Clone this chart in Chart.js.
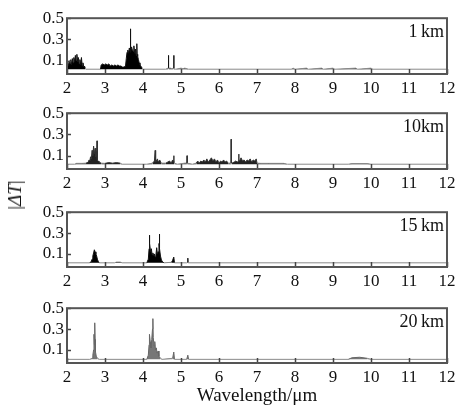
<!DOCTYPE html>
<html>
<head>
<meta charset="utf-8">
<script src="https://cdn.jsdelivr.net/npm/chart.js@4.4.1/dist/chart.umd.min.js"></script>
<style>
  html, body { margin:0; padding:0; background:#fff; }
  #wrap { position:relative; width:461px; height:405px; background:#fff; overflow:hidden; }
  canvas { position:absolute; left:0; }
  #ylab { position:absolute; left:15px; top:195px; transform:translate(-50%,-50%) rotate(-90deg);
          font:19px "Liberation Serif", serif; color:#111; white-space:nowrap; }
</style>
</head>
<body>
<div id="wrap">
  <canvas id="c1" width="461" height="95" style="top:5px"></canvas>
  <canvas id="c2" width="461" height="95" style="top:100px"></canvas>
  <canvas id="c3" width="461" height="94" style="top:199px"></canvas>
  <canvas id="c4" width="461" height="114" style="top:295px"></canvas>
  <div id="ylab">|<i>ΔT</i>|</div>
</div>
<script>
// ---------- data ----------
const panelLabels = ["1\u2009km", "10km", "15\u2009km", "20\u2009km"];
const xTickValues = [2, 3, 4, 5, 6, 7, 8, 9, 10, 11, 12];
const yTickValues = [0.1, 0.3, 0.5];
const xTitle = "Wavelength/\u03bcm";
const floorLevels = [0.02, 0.02, 0.015, 0.01];

// 1 km
const wl1 = [2.00,2.01,2.02,2.04,2.06,2.08,2.10,2.12,2.14,2.16,2.18,2.20,2.22,2.24,2.26,2.28,2.30,2.32,2.34,2.36,2.38,2.40,2.42,2.44,2.46,2.48,2.50,
  2.88,2.90,2.94,2.98,3.02,3.06,3.10,3.14,3.18,3.22,3.26,3.30,3.34,3.38,3.42,3.46,3.50,3.54,
  3.56,3.58,3.60,3.62,3.64,3.66,3.665,3.67,3.675,3.68,3.70,3.72,3.74,3.76,3.78,3.80,3.82,3.835,3.84,3.845,3.86,3.88,3.90,3.92,3.94,3.96,3.98,4.00,
  4.60,4.62,4.66,4.665,4.67,4.675,4.68,4.72,4.76,4.80,4.805,4.81,4.815,4.82,4.86,
  5.00,5.05,5.10,5.20,7.90,7.95,8.00,8.30,8.35,8.70,8.75,9.00,9.05,9.60,9.65,10.00,10.05,12.00];
const dT1 = [0.02,0.06,0.09,0.05,0.10,0.07,0.11,0.06,0.12,0.08,0.13,0.09,0.15,0.10,0.16,0.09,0.13,0.07,0.11,0.06,0.13,0.05,0.08,0.04,0.05,0.03,0.02,
  0.02,0.06,0.07,0.06,0.07,0.06,0.07,0.05,0.06,0.05,0.06,0.05,0.06,0.05,0.05,0.04,0.04,0.05,
  0.12,0.18,0.20,0.17,0.22,0.19,0.20,0.40,0.20,0.18,0.23,0.20,0.19,0.24,0.17,0.21,0.15,0.16,0.26,0.16,0.14,0.11,0.08,0.06,0.05,0.04,0.03,0.02,
  0.02,0.025,0.03,0.03,0.15,0.03,0.03,0.03,0.025,0.03,0.03,0.15,0.03,0.025,0.02,
  0.03,0.025,0.03,0.02,0.02,0.03,0.02,0.03,0.02,0.03,0.02,0.03,0.02,0.03,0.02,0.03,0.02,0.02];

// 10 km
const wl2 = [2.00,2.20,2.25,2.40,2.50,2.56,2.58,2.60,2.62,2.64,2.66,2.68,2.70,2.72,2.74,2.76,2.78,2.785,2.79,2.795,2.80,2.82,2.84,2.90,3.00,3.10,3.20,3.30,3.40,3.45,
  4.10,4.25,4.30,4.315,4.32,4.325,4.34,4.38,4.40,4.44,4.48,4.60,4.70,4.74,4.78,4.805,4.81,4.815,4.83,4.90,5.10,5.155,5.16,5.165,5.18,5.30,
  5.40,5.44,5.48,5.52,5.56,5.60,5.64,5.68,5.72,5.76,5.80,5.84,5.88,5.92,5.96,6.00,6.04,6.08,6.12,6.16,6.20,6.24,6.30,6.315,6.32,6.325,6.34,
  6.40,6.44,6.48,6.515,6.52,6.525,6.54,6.58,6.62,6.66,6.70,6.74,6.78,6.82,6.86,6.90,6.94,6.98,7.00,7.10,7.30,7.50,7.70,7.80,
  9.40,9.50,9.70,9.90,10.00,12.00];
const dT2 = [0.02,0.02,0.028,0.028,0.03,0.04,0.06,0.05,0.09,0.07,0.15,0.10,0.19,0.12,0.17,0.09,0.14,0.10,0.24,0.08,0.06,0.05,0.04,0.03,0.028,0.035,0.03,0.035,0.03,0.02,
  0.02,0.03,0.05,0.05,0.15,0.05,0.04,0.07,0.04,0.06,0.03,0.03,0.05,0.03,0.06,0.05,0.10,0.04,0.03,0.02,0.03,0.03,0.10,0.03,0.03,0.02,
  0.03,0.05,0.03,0.05,0.04,0.06,0.04,0.07,0.04,0.06,0.08,0.05,0.07,0.04,0.06,0.03,0.05,0.04,0.06,0.04,0.05,0.03,0.03,0.03,0.255,0.03,0.03,
  0.04,0.05,0.04,0.05,0.115,0.05,0.05,0.08,0.05,0.06,0.04,0.06,0.05,0.07,0.04,0.06,0.05,0.07,0.03,0.028,0.028,0.028,0.028,0.02,
  0.02,0.026,0.026,0.026,0.02,0.02];

// 15 km
const wl3 = [2.00,2.60,2.64,2.66,2.68,2.70,2.72,2.74,2.76,2.78,2.80,2.82,2.85,3.25,3.30,3.40,3.45,
  4.10,4.14,4.16,4.165,4.17,4.175,4.18,4.20,4.22,4.24,4.26,4.28,4.30,4.32,4.34,4.36,4.38,4.40,4.42,4.425,4.43,4.435,4.44,4.46,4.48,4.50,4.55,
  4.75,4.78,4.81,4.83,5.15,5.175,5.18,5.185,5.20,12.00];
const dT3 = [0.015,0.015,0.03,0.05,0.08,0.11,0.14,0.12,0.10,0.08,0.05,0.03,0.015,0.015,0.022,0.022,0.015,
  0.015,0.05,0.15,0.18,0.28,0.18,0.20,0.12,0.15,0.09,0.11,0.08,0.10,0.07,0.09,0.16,0.10,0.12,0.20,0.20,0.29,0.18,0.15,0.08,0.05,0.03,0.015,
  0.02,0.04,0.07,0.015,0.015,0.02,0.06,0.02,0.015,0.015];

// 20 km
const wl4 = [2.00,2.60,2.66,2.68,2.70,2.71,2.72,2.73,2.74,2.75,2.77,2.80,2.85,
  4.10,4.14,4.16,4.17,4.19,4.21,4.23,4.25,4.26,4.27,4.29,4.31,4.33,4.35,4.37,4.40,4.42,4.46,4.50,
  4.78,4.81,4.83,5.15,5.18,5.20,9.40,9.50,9.70,9.90,10.00,12.00];
const dT4 = [0.01,0.01,0.02,0.05,0.10,0.25,0.15,0.36,0.20,0.08,0.04,0.02,0.01,
  0.01,0.05,0.15,0.25,0.18,0.12,0.20,0.30,0.40,0.22,0.14,0.18,0.10,0.12,0.07,0.09,0.04,0.02,0.01,
  0.02,0.08,0.01,0.01,0.05,0.01,0.01,0.025,0.03,0.02,0.01,0.01];

const panels = [
  {id:"c1", wl:wl1, dT:dT1, fill:"#000", line:"#111", xh:26},
  {id:"c2", wl:wl2, dT:dT2, fill:"#222", line:"#333", xh:26},
  {id:"c3", wl:wl3, dT:dT3, fill:"#000", line:"#111", xh:26},
  {id:"c4", wl:wl4, dT:dT4, fill:"#777", line:"#666", xh:46, title:true}
];

const FONT = "'Liberation Serif', 'Times New Roman', serif";

const framePlugin = {
  id: "frame",
  afterDatasetsDraw(chart, args, opts) {
    const {ctx, chartArea:a, scales} = chart;
    ctx.save();
    ctx.strokeStyle = "#444";
    ctx.lineWidth = 1.5;
    ctx.beginPath();
    xTickValues.forEach(v => {
      const px = Math.round(scales.x.getPixelForValue(v)) + 0.5;
      ctx.moveTo(px, a.bottom);
      ctx.lineTo(px, a.bottom - 5);
    });
    yTickValues.forEach(v => {
      const py = Math.round(scales.y.getPixelForValue(v)) + 0.5;
      ctx.moveTo(a.left, py);
      ctx.lineTo(a.left + 4, py);
    });
    ctx.stroke();
    ctx.strokeStyle = "#555";
    ctx.lineWidth = 2;
    ctx.strokeRect(a.left, a.top, a.right - a.left, a.bottom - a.top);
    ctx.fillStyle = "#111";
    ctx.font = "18px " + FONT;
    ctx.textAlign = "right";
    ctx.textBaseline = "middle";
    ctx.fillText(opts.label, a.right - 3, a.top + 14);
    ctx.restore();
  }
};

panels.forEach((p, i) => {
  const floor = floorLevels[i];
  const points = p.wl.map((x, k) => ({x: x, y: p.dT[k]}));
  new Chart(document.getElementById(p.id), {
    type: "line",
    data: {
      datasets: [{
        data: points,
        borderColor: p.line,
        backgroundColor: p.fill,
        borderWidth: 1,
        pointRadius: 0,
        tension: 0,
        fill: {value: floor},
        segment: {
          borderColor: c => (c.p0.parsed.y <= floor + 0.011 && c.p1.parsed.y <= floor + 0.011) ? "#8a8a8a" : p.line
        }
      }]
    },
    plugins: [framePlugin],
    options: {
      responsive: false,
      animation: false,
      devicePixelRatio: 1,
      layout: {padding: {left: 0, top: 10, right: 14, bottom: 0}},
      plugins: {legend: {display: false}, tooltip: {enabled: false}, frame: {label: panelLabels[i]}},
      scales: {
        x: {
          type: "linear", min: 2, max: 12,
          afterBuildTicks: s => { s.ticks = xTickValues.map(v => ({value: v})); },
          afterFit: s => { s.height = p.xh; },
          grid: {display: false, drawTicks: false},
          border: {display: false},
          ticks: {color: "#111", padding: 4, font: {family: FONT, size: 17}, maxRotation: 0, autoSkip: false,
                  callback: v => String(v)},
          title: {display: !!p.title, text: xTitle, color: "#111", padding: {top: 2, bottom: 2},
                  font: {family: FONT, size: 19}}
        },
        y: {
          type: "linear", min: -0.025, max: 0.5,
          afterBuildTicks: s => { s.ticks = yTickValues.map(v => ({value: v})); },
          afterFit: s => { s.width = 67; },
          grid: {display: false, drawTicks: false},
          border: {display: false},
          ticks: {color: "#111", padding: 3, font: {family: FONT, size: 17},
                  callback: v => v.toFixed(1)}
        }
      }
    }
  });
});
</script>
</body>
</html>
